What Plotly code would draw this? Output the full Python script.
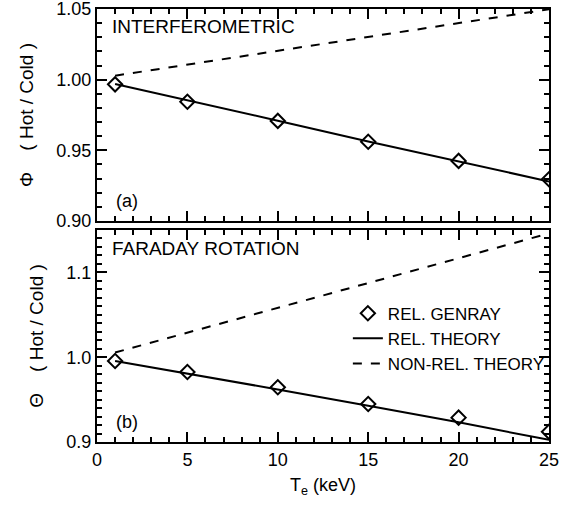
import plotly.graph_objects as go
from plotly.subplots import make_subplots

# Data
te_points = [1, 5, 10, 15, 20, 25]
phi_genray = [0.9967, 0.9844, 0.9708, 0.9561, 0.9425, 0.9295]
theta_genray = [0.9955, 0.9825, 0.9645, 0.9448, 0.9287, 0.9120]

te_theory = [1, 5, 10, 15, 20, 25]
phi_rel = [0.9970, 0.9855, 0.9710, 0.9562, 0.9420, 0.9280]
phi_nonrel = [1.0028, 1.0106, 1.0204, 1.0302, 1.0400, 1.0498]
theta_rel = [0.9955, 0.9810, 0.9620, 0.9428, 0.9232, 0.9025]
theta_nonrel = [1.0055, 1.0289, 1.0582, 1.0874, 1.1167, 1.1460]

FONT = "Liberation Sans, Arial, Helvetica, sans-serif"
NB = "\u00a0"

fig = make_subplots(rows=2, cols=1, shared_xaxes=False, vertical_spacing=0.0208)

marker = dict(symbol="diamond-open", size=11, color="black", line=dict(width=2, color="black"))

# top panel
fig.add_trace(go.Scatter(x=te_theory, y=phi_nonrel, mode="lines",
                         line=dict(color="black", width=2, dash="dash"), showlegend=False), row=1, col=1)
fig.add_trace(go.Scatter(x=te_theory, y=phi_rel, mode="lines",
                         line=dict(color="black", width=2), showlegend=False), row=1, col=1)
fig.add_trace(go.Scatter(x=te_points, y=phi_genray, mode="markers", marker=marker,
                         showlegend=False), row=1, col=1)

# bottom panel
fig.add_trace(go.Scatter(x=te_points, y=theta_genray, mode="markers", marker=marker,
                         name="REL. GENRAY", legendgroup="a"), row=2, col=1)
fig.add_trace(go.Scatter(x=te_theory, y=theta_rel, mode="lines",
                         line=dict(color="black", width=2), name="REL. THEORY", legendgroup="b"), row=2, col=1)
fig.add_trace(go.Scatter(x=te_theory, y=theta_nonrel, mode="lines",
                         line=dict(color="black", width=2, dash="dash"), name="NON-REL. THEORY",
                         legendgroup="c"), row=2, col=1)

axis_common = dict(
    showline=True, linecolor="black", linewidth=2, mirror="ticks",
    ticks="inside", ticklen=10, tickwidth=1.5, tickcolor="black",
    showgrid=False, zeroline=False, automargin=False, ticklabeloverflow="allow",
    tickfont=dict(family=FONT, size=18, color="black"),
)

fig.update_xaxes(range=[0, 25], tick0=0, dtick=5,
                 minor=dict(ticks="inside", ticklen=5, dtick=1, tickcolor="black", tickwidth=1.5, showgrid=False),
                 **axis_common)
fig.update_xaxes(showticklabels=False, row=1, col=1)
fig.update_xaxes(title=dict(text="T<sub>e</sub> (keV)", font=dict(family=FONT, size=18, color="black"), standoff=10),
                 row=2, col=1)

ytitle_font = dict(family=FONT, size=19, color="black")
fig.update_yaxes(range=[0.90, 1.05], tick0=0.90, dtick=0.05, tickformat=".2f",
                 minor=dict(ticks="inside", ticklen=5, dtick=0.01, tickcolor="black", tickwidth=1.5, showgrid=False),
                 title=dict(text="Φ" + NB * 4 + "( Hot / Cold )", font=ytitle_font, standoff=18),
                 row=1, col=1, **axis_common)
fig.update_yaxes(range=[0.90, 1.15], tick0=0.9, dtick=0.1, tickformat=".1f",
                 minor=dict(ticks="inside", ticklen=5, dtick=0.01, tickcolor="black", tickwidth=1.5, showgrid=False),
                 title=dict(text="Θ" + NB * 4 + "( Hot / Cold )", font=ytitle_font, standoff=18),
                 row=2, col=1, **axis_common)

fig.update_layout(
    width=574, height=506,
    margin=dict(l=97, r=25, t=9, b=64, autoexpand=False),
    paper_bgcolor="white", plot_bgcolor="white",
    font=dict(family=FONT, color="black"),
    legend=dict(x=0.555, y=0.338, xanchor="left", yanchor="top",
                font=dict(family=FONT, size=17, color="black"),
                bgcolor="rgba(0,0,0,0)", tracegroupgap=0, itemwidth=30,
                traceorder="grouped"),
    annotations=[
        dict(text="INTERFEROMETRIC", x=0.029, y=0.988, xref="paper", yref="paper",
             xanchor="left", yanchor="top", showarrow=False, font=dict(family=FONT, size=19, color="black")),
        dict(text="FARADAY ROTATION", x=0.029, y=0.475, xref="paper", yref="paper",
             xanchor="left", yanchor="top", showarrow=False, font=dict(family=FONT, size=19, color="black")),
        dict(text="(a)", x=0.038, y=0.529, xref="paper", yref="paper",
             xanchor="left", yanchor="bottom", showarrow=False, font=dict(family=FONT, size=18, color="black")),
        dict(text="(b)", x=0.038, y=0.019, xref="paper", yref="paper",
             xanchor="left", yanchor="bottom", showarrow=False, font=dict(family=FONT, size=18, color="black")),
    ],
)

fig.write_html("out.html", config={"displayModeBar": False},
               post_script="document.body.style.margin='0px';")
